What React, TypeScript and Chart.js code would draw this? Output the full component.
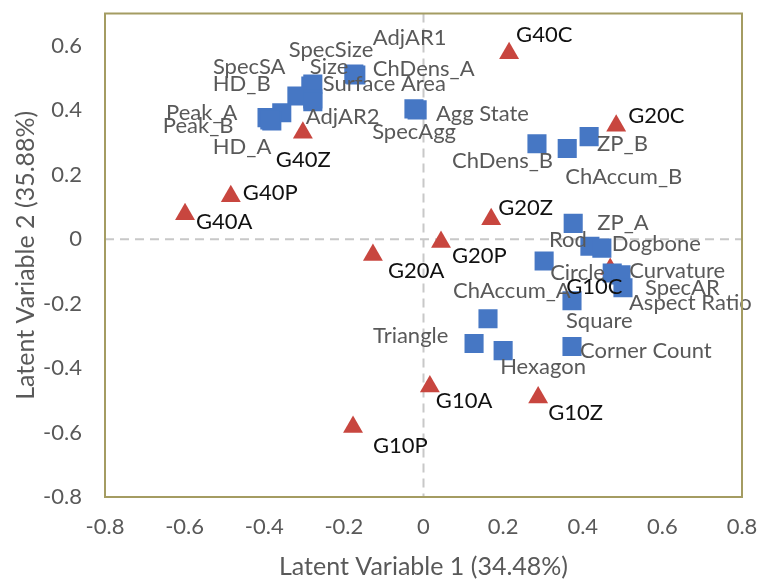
import React, { useEffect, useRef } from 'react';
import { Chart, registerables } from 'chart.js';

Chart.register(...registerables);

// ---- data ----
const variableNames = [
  'AdjAR1', 'SpecSize', 'Size', 'ChDens_A', 'SpecSA', 'Surface Area', 'HD_B', 'Peak_A', 'Peak_B', 'HD_A',
  'AdjAR2', 'Agg State', 'SpecAgg', 'ChDens_B', 'ChAccum_B', 'ZP_B', 'ZP_A', 'Rod', 'Dogbone', 'Circle',
  'Curvature', 'SpecAR', 'Aspect Ratio', 'ChAccum_A', 'Square', 'Triangle', 'Hexagon', 'Corner Count',
];
const variableX = [
  -0.175, -0.278, -0.283, -0.170, -0.318, -0.278, -0.356, -0.393, -0.381, -0.386,
  -0.278, -0.024, -0.016, 0.285, 0.361, 0.416, 0.376, 0.418, 0.448, 0.303,
  0.474, 0.496, 0.501, 0.162, 0.373, 0.127, 0.200, 0.373,
];
const variableY = [
  0.512, 0.481, 0.475, 0.509, 0.444, 0.435, 0.392, 0.377, 0.367, 0.370,
  0.426, 0.404, 0.401, 0.296, 0.281, 0.318, 0.049, -0.022, -0.028, -0.068,
  -0.105, -0.111, -0.151, -0.247, -0.191, -0.324, -0.346, -0.333,
];

const groupNames = ['G40C', 'G20C', 'G40Z', 'G40P', 'G40A', 'G20Z', 'G20P', 'G20A', 'G10A', 'G10Z', 'G10P', 'G10C'];
const groupX = [0.215, 0.484, -0.303, -0.484, -0.599, 0.170, 0.044, -0.127, 0.016, 0.288, -0.177, 0.469];
const groupY = [0.577, 0.352, 0.330, 0.133, 0.077, 0.062, -0.009, -0.049, -0.457, -0.491, -0.583, -0.093];

const xTickValues = [-0.8, -0.6, -0.4, -0.2, 0, 0.2, 0.4, 0.6, 0.8];
const yTickValues = [-0.8, -0.6, -0.4, -0.2, 0, 0.2, 0.4, 0.6];

const xTitle = 'Latent Variable 1 (34.48%)';
const yTitle = 'Latent Variable 2 (35.88%)';

// ---- styles (label placement offsets in px from the marker) ----
const variableLabelOffsets: [number, number][] = [
  [19, -36], [-24, -34], [-1, -19], [17, -6], [-84, -29], [10, -15], [-69, -29], [-101, -5], [-109, 5], [-57, 27],
  [-7, 15], [22, 5], [-45, 22], [-85, 17], [-2, 28], [8, 7], [24, 0], [-41, -6], [10, -4], [6, 12],
  [17, -2], [24, 13], [6, 15], [-35, -28], [-6, 20], [-101, -8], [-3, 16], [8, 4],
];
const groupLabelOffsets: [number, number][] = [
  [7, -18], [12, -10], [-27, 27], [12, -3], [11, 8], [7, -11], [11, 14], [15, 16], [6, 14], [10, 16], [20, 19], [-44, 18],
];

const FONT = 'Lato, "Open Sans", sans-serif';
const BLUE = '#4677C4';
const RED = '#C8463F';
const FRAME = '#A49C62';
const GRID = '#C8C8C8';
const TEXT_GRAY = '#595959';

const labelPlugin = {
  id: 'customDecor',
  beforeDatasetsDraw(chart: any) {
    const { ctx, chartArea, scales } = chart;
    const x0 = scales.x.getPixelForValue(0);
    const y0 = scales.y.getPixelForValue(0);
    ctx.save();
    ctx.strokeStyle = GRID;
    ctx.lineWidth = 2;
    ctx.setLineDash([9, 6]);
    ctx.beginPath();
    ctx.moveTo(x0, chartArea.top);
    ctx.lineTo(x0, chartArea.bottom);
    ctx.moveTo(chartArea.left, y0);
    ctx.lineTo(chartArea.right, y0);
    ctx.stroke();
    ctx.restore();
  },
  afterDatasetsDraw(chart: any) {
    const { ctx, chartArea } = chart;
    ctx.save();
    ctx.font = `22px ${FONT}`;
    ctx.textAlign = 'left';
    ctx.textBaseline = 'middle';
    const vMeta = chart.getDatasetMeta(0);
    ctx.fillStyle = TEXT_GRAY;
    vMeta.data.forEach((pt: any, i: number) => {
      const [dx, dy] = variableLabelOffsets[i];
      ctx.fillText(variableNames[i], pt.x + dx, pt.y + dy);
    });
    const gMeta = chart.getDatasetMeta(1);
    ctx.fillStyle = '#111111';
    gMeta.data.forEach((pt: any, i: number) => {
      const [dx, dy] = groupLabelOffsets[i];
      ctx.fillText(groupNames[i], pt.x + dx, pt.y + dy);
    });
    ctx.strokeStyle = FRAME;
    ctx.lineWidth = 2;
    ctx.setLineDash([]);
    ctx.strokeRect(chartArea.left, chartArea.top, chartArea.right - chartArea.left, chartArea.bottom - chartArea.top);
    ctx.restore();
  },
};

const fmt = (v: number) => {
  const r = Math.round(v * 10) / 10;
  return r === 0 ? '0' : r.toFixed(1);
};

export default function App() {
  const canvasRef = useRef<HTMLCanvasElement | null>(null);

  useEffect(() => {
    document.body.style.margin = '0';
    const canvas = canvasRef.current;
    if (!canvas) return;
    const chart = new Chart(canvas, {
      type: 'scatter',
      data: {
        datasets: [
          {
            label: 'Variables',
            data: variableX.map((x, i) => ({ x, y: variableY[i] })),
            pointStyle: 'rect',
            pointRadius: 13.5,
            pointHoverRadius: 13.5,
            backgroundColor: BLUE,
            borderColor: BLUE,
            borderWidth: 0,
          },
          {
            label: 'Groups',
            data: groupX.map((x, i) => ({ x, y: groupY[i] })),
            pointStyle: 'triangle',
            pointRadius: 11.5,
            pointHoverRadius: 11.5,
            backgroundColor: RED,
            borderColor: RED,
            borderWidth: 0,
          },
        ],
      },
      options: {
        responsive: false,
        animation: false,
        layout: { padding: { left: 0, right: 19, top: 13, bottom: 0 } },
        plugins: { legend: { display: false }, tooltip: { enabled: false } },
        scales: {
          x: {
            type: 'linear',
            min: -0.8,
            max: 0.8,
            afterBuildTicks: (s: any) => { s.ticks = xTickValues.map((v) => ({ value: v })); },
            afterFit: (s: any) => { s.height = 87; s.paddingLeft = 0; s.paddingRight = 0; },
            grid: { display: false, drawTicks: false },
            border: { display: false },
            ticks: { color: TEXT_GRAY, font: { family: FONT, size: 22 }, padding: 17, callback: (v: any) => fmt(Number(v)) },
            title: { display: true, text: xTitle, color: TEXT_GRAY, font: { family: FONT, size: 25 }, padding: { top: 0, bottom: 2 } },
          },
          y: {
            type: 'linear',
            min: -0.8,
            max: 0.7,
            afterBuildTicks: (s: any) => { s.ticks = yTickValues.map((v) => ({ value: v })); },
            afterFit: (s: any) => { s.width = 105; s.paddingTop = 0; s.paddingBottom = 0; },
            grid: { display: false, drawTicks: false },
            border: { display: false },
            ticks: { color: TEXT_GRAY, font: { family: FONT, size: 22 }, padding: 23, callback: (v: any) => fmt(Number(v)) },
            title: { display: true, text: yTitle, color: TEXT_GRAY, font: { family: FONT, size: 25 }, padding: { top: 11, bottom: 0 } },
          },
        },
      },
      plugins: [labelPlugin],
    });
    return () => chart.destroy();
  }, []);

  return (
    <div style={{ width: 761, height: 584, background: '#fff' }}>
      <canvas ref={canvasRef} width={761} height={584} style={{ width: 761, height: 584, display: 'block' }} />
    </div>
  );
}
